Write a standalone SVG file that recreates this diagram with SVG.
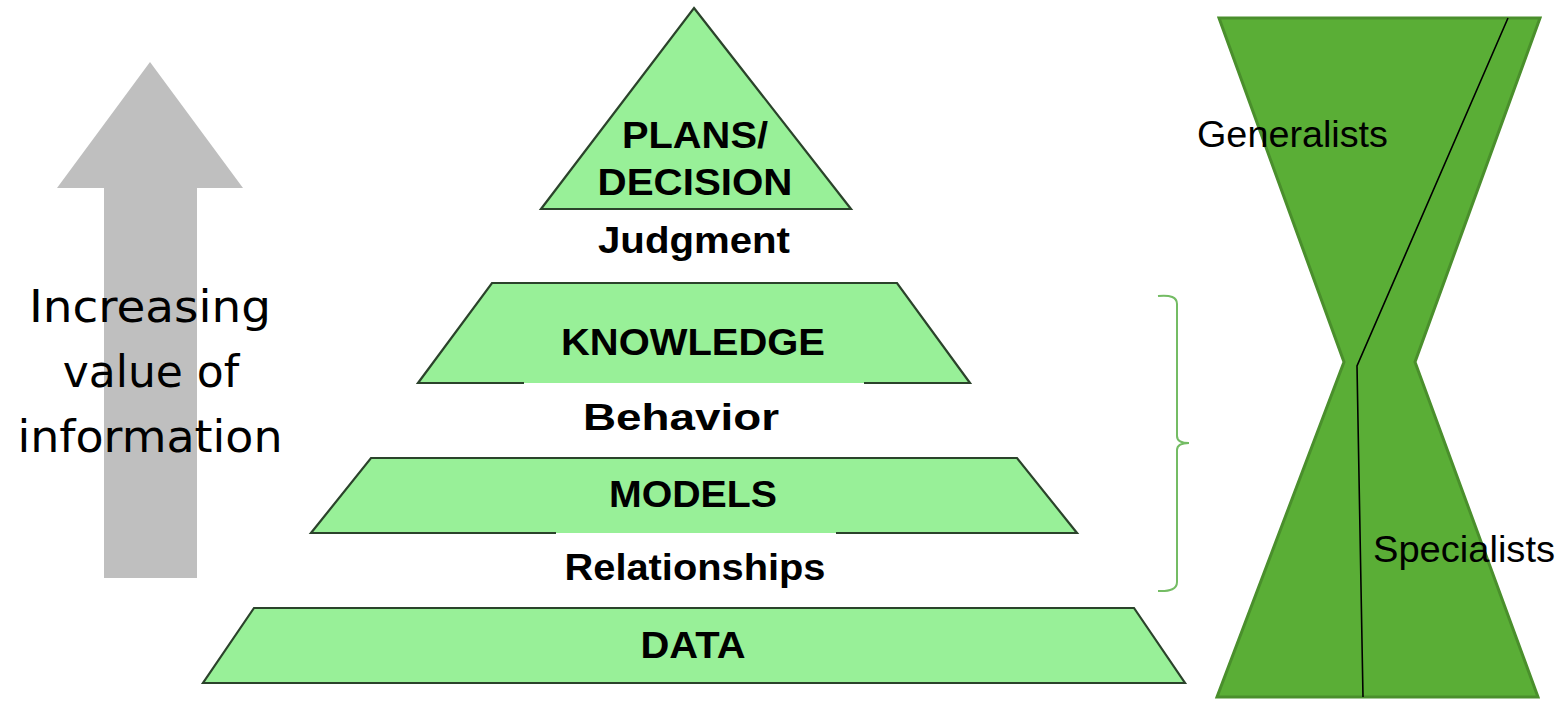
<svg xmlns="http://www.w3.org/2000/svg" width="1559" height="703" viewBox="0 0 1559 703">
<style>
.tier{fill:#98f098;stroke:none}
.edge{fill:none;stroke:#2b432b;stroke-width:2.2;stroke-linejoin:miter}
.lbl{font-family:"Liberation Sans",Arial,sans-serif;font-weight:bold;font-size:37px;fill:#000;text-anchor:middle}
.side{font-family:"DejaVu Sans",Verdana,sans-serif;font-size:44px;fill:#000;text-anchor:middle}
.hg{font-family:"Liberation Sans",Arial,sans-serif;font-size:36px;fill:#000}
</style>
<rect width="1559" height="703" fill="#fff"/>
<g id="value-arrow">
<polygon points="150,62 243,188 197,188 197,578 104,578 104,188 57,188" fill="#bfbfbf"/>
<text class="side" x="150" y="322" textLength="242" lengthAdjust="spacingAndGlyphs">Increasing</text>
<text class="side" x="151" y="387">value of</text>
<text class="side" x="150" y="452" textLength="265" lengthAdjust="spacingAndGlyphs">information</text>
</g>
<g id="plans-decision">
<polygon class="tier" points="694,8 851,209 541,209"/>
<polygon class="edge" points="694,8 851,209 541,209"/>
<text class="lbl" x="695" y="148" textLength="146" lengthAdjust="spacingAndGlyphs">PLANS/</text>
<text class="lbl" x="695" y="195" textLength="195" lengthAdjust="spacingAndGlyphs">DECISION</text>
</g>
<g id="judgment">
<text class="lbl" x="694" y="253" textLength="192" lengthAdjust="spacingAndGlyphs">Judgment</text>
</g>
<g id="knowledge">
<polygon class="tier" points="492,283 897,283 970,383 418,383"/>
<polyline class="edge" points="524,383 418,383 492,283 897,283 970,383 864,383"/>
<text class="lbl" x="693" y="355" textLength="264" lengthAdjust="spacingAndGlyphs">KNOWLEDGE</text>
</g>
<g id="behavior">
<text class="lbl" x="681" y="430" textLength="196" lengthAdjust="spacingAndGlyphs">Behavior</text>
</g>
<g id="models">
<polygon class="tier" points="371,458 1017,458 1077,533 311,533"/>
<polyline class="edge" points="556,533 311,533 371,458 1017,458 1077,533 836,533"/>
<text class="lbl" x="693" y="507" textLength="168" lengthAdjust="spacingAndGlyphs">MODELS</text>
</g>
<g id="relationships">
<text class="lbl" x="695" y="580" textLength="261" lengthAdjust="spacingAndGlyphs">Relationships</text>
</g>
<g id="data">
<polygon class="tier" points="254,608 1134,608 1185,683 203,683"/>
<polygon class="edge" points="254,608 1134,608 1185,683 203,683"/>
<text class="lbl" x="693" y="658" textLength="105" lengthAdjust="spacingAndGlyphs">DATA</text>
</g>
<g id="bracket">
<path d="M1158,296 Q1177,294 1177,304 L1177,436 Q1177,443 1189,443 Q1177,443 1177,450 L1177,582 Q1177,592 1158,591" fill="none" stroke="#74bc64" stroke-width="2"/>
</g>
<g id="hourglass">
<polygon points="1219,18 1540,18 1415,362 1538,697 1217,697 1344,362" fill="#5aae36" stroke="#4a8f2c" stroke-width="3" stroke-linejoin="miter"/>
<polyline points="1508,18 1357,366 1363,697" fill="none" stroke="#000" stroke-width="1.6"/>
<text class="hg" x="1197" y="147" textLength="191" lengthAdjust="spacingAndGlyphs">Generalists</text>
<text class="hg" x="1373" y="562" textLength="182" lengthAdjust="spacingAndGlyphs">Specialists</text>
</g>
</svg>
